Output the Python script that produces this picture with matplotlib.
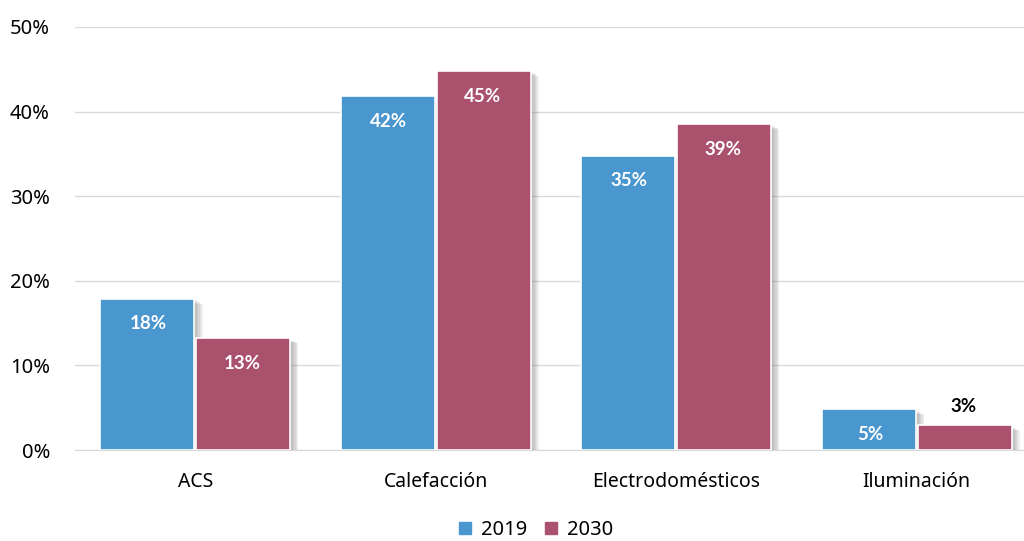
import matplotlib.pyplot as plt
import matplotlib.patheffects as pe
from matplotlib.patches import Patch
import numpy as np

categories = ["ACS", "Calefacción", "Electrodomésticos", "Iluminación"]
values_2019 = [17.9, 41.8, 34.8, 4.8]
values_2030 = [13.2, 44.8, 38.5, 2.9]
labels_2019 = ["18%", "42%", "35%", "5%"]
labels_2030 = ["13%", "45%", "39%", "3%"]
yticks = [0, 10, 20, 30, 40, 50]

blue = "#4A96CE"
red = "#A9516D"

plt.rcParams['font.family'] = ['Noto Sans', 'DejaVu Sans']

fig = plt.figure(figsize=(10.24, 5.41), dpi=100)
ax = fig.add_axes([75 / 1024, 1 - 450 / 541, 1 - 75 / 1024, (450 - 27) / 541])

x = np.arange(len(categories))
w = 0.39
# soft shadow: a few offset copies with low alpha
shadow = [pe.SimplePatchShadow(offset=(d, -d * 0.6), shadow_rgbFace="#808080", alpha=0.12)
          for d in (6, 5, 4, 3, 2)] + [pe.Normal()]

ax.bar(x - w / 2 - 0.004, values_2019, w, color=blue, edgecolor="white", linewidth=1.2,
       zorder=3, path_effects=shadow)
ax.bar(x + w / 2 + 0.004, values_2030, w, color=red, edgecolor="white", linewidth=1.2,
       zorder=3, path_effects=shadow)

lab_font = dict(family=['Lato', 'DejaVu Sans'], fontsize=13.5, fontweight="bold")
for i in range(len(categories)):
    ax.text(x[i] - w / 2, values_2019[i] - 3.0, labels_2019[i], ha="center", va="center",
            color="white", zorder=4, **lab_font)
    if values_2030[i] > 6:
        ax.text(x[i] + w / 2, values_2030[i] - 3.0, labels_2030[i], ha="center", va="center",
                color="white", zorder=4, **lab_font)
    else:
        ax.text(x[i] + w / 2, values_2030[i] + 2.3, labels_2030[i], ha="center", va="center",
                color="black", zorder=4, **lab_font)

ax.set_xlim(-0.5, -0.5 + (1024 - 75) / 240.5)
ax.set_ylim(0, 50)
ax.set_yticks(yticks)
ax.set_yticklabels([f"{t}%" for t in yticks], fontsize=14.5)
ax.set_xticks(x)
ax.set_xticklabels(categories, fontsize=14)
ax.tick_params(axis="both", length=0)
ax.tick_params(axis="x", pad=16)
ax.tick_params(axis="y", pad=18)
ax.yaxis.grid(True, color="#d9d9d9", linewidth=1, zorder=0)
for s in ["top", "right", "left"]:
    ax.spines[s].set_visible(False)
ax.spines["bottom"].set_color("#d9d9d9")

handles = [Patch(color=blue, label="2019"), Patch(color=red, label="2030")]
fig.legend(handles=handles, loc="center", bbox_to_anchor=(536 / 1024, 1 - 530 / 541), ncol=2,
           frameon=False, fontsize=14.5, handlelength=0.6, handleheight=0.6,
           handletextpad=0.5, columnspacing=0.9)

plt.savefig("out.png", dpi=100)
